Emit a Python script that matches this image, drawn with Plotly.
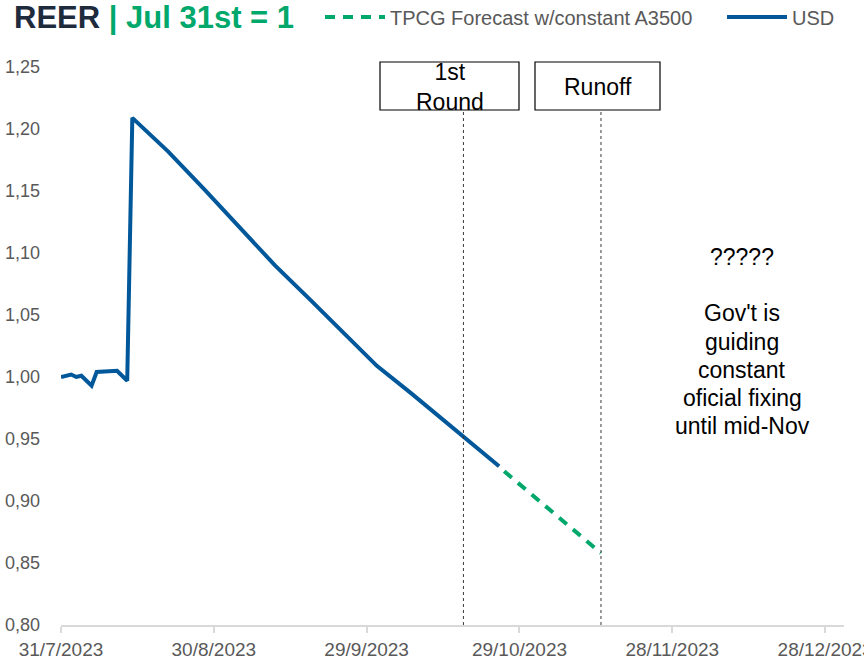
import plotly.graph_objects as go

# Real effective exchange rate, indexed Jul 31st = 1
usd_dates = [
    "2023-07-31", "2023-08-02", "2023-08-03", "2023-08-04", "2023-08-06",
    "2023-08-07", "2023-08-11", "2023-08-13", "2023-08-14", "2023-08-21",
    "2023-08-28", "2023-09-04", "2023-09-11", "2023-09-18", "2023-09-25",
    "2023-10-01", "2023-10-08", "2023-10-15", "2023-10-18", "2023-10-25",
]
usd_reer = [
    1.000, 1.002, 1.000, 1.001, 0.993,
    1.004, 1.005, 0.997, 1.209, 1.182,
    1.152, 1.121, 1.090, 1.062, 1.033,
    1.009, 0.986, 0.962, 0.952, 0.928,
]

# Forecast path with a constant A3500 official rate
forecast_dates = ["2023-10-26", "2023-11-05", "2023-11-14"]
forecast_reer = [0.924, 0.889, 0.858]

# Election events
event_labels = ["1st<br>Round", "Runoff"]
event_dates = ["2023-10-18", "2023-11-14"]

# Side note, one entry per text line
note_lines = ["?????", "", "Gov't is", "guiding", "constant",
              "oficial fixing", "until mid-Nov"]

# Axis ticks
x_tick_dates = ["2023-07-31", "2023-08-30", "2023-09-29",
                "2023-10-29", "2023-11-28", "2023-12-28"]
x_tick_text = ["31/7/2023", "30/8/2023", "29/9/2023",
               "29/10/2023", "28/11/2023", "28/12/2023"]
y_ticks = [0.80, 0.85, 0.90, 0.95, 1.00, 1.05, 1.10, 1.15, 1.20, 1.25]

BLUE = "#00579A"
GREEN = "#00A86B"
NAVY = "#1E2B3C"
GREY_TXT = "#595959"
FONT = "Liberation Sans, Arial, sans-serif"

fig = go.Figure()

fig.add_trace(go.Scatter(
    x=usd_dates, y=usd_reer, mode="lines", name="USD",
    line=dict(color=BLUE, width=4), legend="legend2",
))
fig.add_trace(go.Scatter(
    x=forecast_dates, y=forecast_reer, mode="lines",
    name="TPCG Forecast w/constant A3500",
    line=dict(color=GREEN, width=4, dash="10px,8px"), legend="legend",
))

# Plot area geometry (pixels) used for the event boxes and notes
W, H = 864, 659
L, R, T, B = 61, 20, 67, 34
pw, ph = W - L - R, H - T - B


def px_x(x):
    return (x - L) / pw


def px_y(y):
    return (H - B - y) / ph


shapes = []
annotations = []

# dotted vertical lines at each event, from the box down to the axis
box_bottom = px_y(110)
for d in event_dates:
    shapes.append(dict(
        type="line", xref="x", yref="paper", x0=d, x1=d, y0=0, y1=box_bottom,
        line=dict(color="#3a3a3a", width=1, dash="dot"), layer="above",
    ))

# labelled boxes above the event lines
boxes = [(380, 519), (535, 660)]
for (bx0, bx1), label in zip(boxes, event_labels):
    shapes.append(dict(
        type="rect", xref="paper", yref="paper",
        x0=px_x(bx0), x1=px_x(bx1), y0=box_bottom, y1=px_y(62),
        line=dict(color="#000000", width=1.2), fillcolor="white", layer="above",
    ))
    annotations.append(dict(
        xref="paper", yref="paper", x=px_x((bx0 + bx1) / 2), y=px_y(87),
        text=label, showarrow=False, xanchor="center", yanchor="middle",
        font=dict(family=FONT, size=23, color="#000000"),
    ))

# side note, drawn line by line with a fixed spacing
for i, line in enumerate(note_lines):
    if not line:
        continue
    annotations.append(dict(
        xref="paper", yref="paper", x=px_x(742), y=px_y(257 + 28.2 * i),
        text=line, showarrow=False, xanchor="center", yanchor="middle",
        font=dict(family=FONT, size=23, color="#000000"),
    ))

legend_common = dict(
    orientation="h", xref="container", yref="container",
    xanchor="left", y=1 - 17 / H, yanchor="middle",
    font=dict(family=FONT, size=20, color=GREY_TXT),
    itemwidth=60, bgcolor="rgba(0,0,0,0)",
)

fig.update_layout(
    width=W, height=H,
    margin=dict(l=L, r=R, t=T, b=B, pad=0),
    paper_bgcolor="white", plot_bgcolor="white",
    separators=",.",
    font=dict(family=FONT, color=GREY_TXT, size=18),
    title=dict(
        text=f"<b>REER</b> <span style='color:{GREEN}'><b>| Jul 31st = 1</b></span>",
        font=dict(family=FONT, size=31, color=NAVY),
        x=14 / W, xanchor="left", xref="container",
        y=1 - 17 / H, yanchor="middle", yref="container",
    ),
    showlegend=True,
    legend=dict(x=320 / W, **legend_common),
    legend2=dict(x=722 / W, **legend_common),
    xaxis=dict(
        type="date", range=["2023-07-31", "2023-12-31 17:00"],
        tickvals=x_tick_dates, ticktext=x_tick_text,
        showgrid=False, zeroline=False,
        showline=True, linecolor="#d9d9d9", linewidth=1.5,
        ticks="outside", ticklen=6, tickcolor="#d9d9d9", tickwidth=1.5,
        tickfont=dict(family=FONT, size=19, color=GREY_TXT),
        ticklabeloverflow="allow",
        automargin=False,
    ),
    yaxis=dict(
        range=[0.80, 1.25], tickvals=y_ticks, tickformat=".2f",
        showgrid=False, zeroline=False, showline=False,
        ticks="", ticklabelstandoff=20,
        tickfont=dict(family=FONT, size=18, color=GREY_TXT),
        automargin=False,
    ),
    shapes=shapes, annotations=annotations,
)

fig.write_html("out.html")
